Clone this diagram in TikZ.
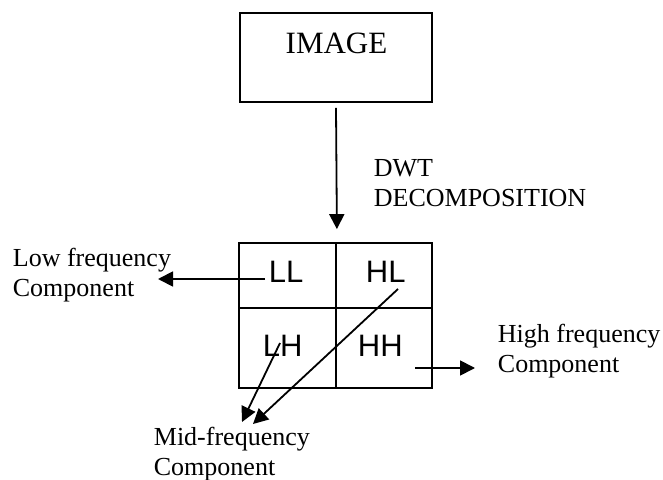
\documentclass[tikz,border=0pt]{standalone}
\usepackage{fontspec}
\setmainfont{Liberation Serif}
\setsansfont{Liberation Sans}
\usetikzlibrary{arrows.meta}
\begin{document}
\begin{tikzpicture}[x=0.5pt,y=-0.5pt,line width=0.9pt,
        txt/.style={inner sep=0pt,font=\fontsize{13}{15}\selectfont,align=left,anchor=base west},
        band/.style={inner sep=0pt,font=\sffamily\fontsize{15.5}{18}\selectfont,anchor=base west},
        cell/.style={draw,inner sep=0pt},
        arr/.style={-{Triangle[length=7.5pt,width=7.5pt]}}]
            \useasboundingbox(0,0)rectangle(663,480);
            % input box
            \node[cell,minimum width=96pt,minimum height=44.5pt](img)at(336,57.5){};
            \node[inner sep=0pt,font=\fontsize{15.5}{18}\selectfont,anchor=base](imgtxt)at(336.5,54){IMAGE};
            % sub-bands
            \node[cell,minimum width=48.5pt,minimum height=32.5pt](LLc)at(287.5,275.5){};
            \node[cell,minimum width=48pt,minimum height=32.5pt](HLc)at(384,275.5){};
            \node[cell,minimum width=48.5pt,minimum height=40pt](LHc)at(287.5,348){};
            \node[cell,minimum width=48pt,minimum height=40pt](HHc)at(384,348){};
            \node[band](LL)at(268,283){LL};
            \node[band](HL)at(365,283){HL};
            \node[band](LH)at(262,357){LH};
            \node[band](HH)at(357,357){HH};
            % labels (base = last line)
            \node[txt](dwt)at(373,207){DWT\\DECOMPOSITION};
            \node[txt](low)at(12,297){Low frequency\\Component};
            \node[txt](high)at(497,372){High frequency\\Component};
            \node[txt](mid)at(153,475){Mid-frequency\\Component};
            % arrows
            \path(img.south)--+(0,5)coordinate(A0);
            \path(LLc.north east)--+(0,-13)coordinate(A1);
            \coordinate(B0)at(265,279);
            \coordinate(B1)at(158,279);
            \coordinate(C0)at(415,368);
            \coordinate(C1)at(475,368);
            \coordinate(D0)at(280,343);
            \coordinate(D1)at(242,422);
            \coordinate(E0)at(398,289);
            \coordinate(E1)at(253,424);
            \draw[arr](A0)--(A1);
            \draw[arr](B0)--(B1);
            \draw[arr](C0)--(C1);
            \draw[arr](D0)--(D1);
            \draw[arr](E0)--(E1);
        \end{tikzpicture}
\end{document}
